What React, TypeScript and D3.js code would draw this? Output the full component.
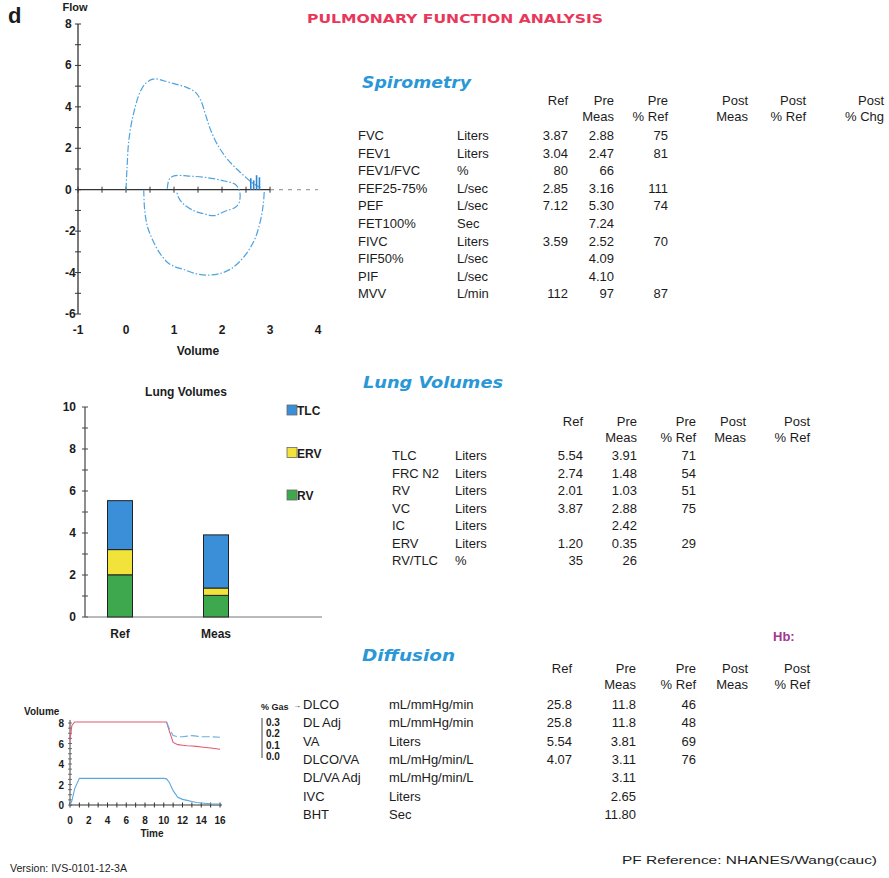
import React, { useRef, useEffect } from 'react';
import * as d3 from 'd3';

const W = 889;
const H = 878;
const SANS = "'Liberation Sans', Arial, sans-serif";
const WIDE = "'DejaVu Sans', Verdana, sans-serif";
const INK = '#1c1c1c';
const HEAD_BLUE = '#2a97d6';
const CURVE_BLUE = '#4ea3de';

// ---- flow-volume loop (volume in L, flow in L/sec) ----
const expVolume = [0, 0.02, 0.06, 0.15, 0.3, 0.44, 0.6, 0.8, 1.0, 1.25, 1.45, 1.56, 1.66, 1.76, 1.9, 2.12, 2.4, 2.62, 2.8];
const expFlow = [0, 1.0, 2.4, 3.6, 4.75, 5.2, 5.35, 5.25, 5.12, 4.95, 4.7, 4.3, 3.6, 2.9, 2.2, 1.45, 0.8, 0.35, 0.1];
const inspVolume = [0.37, 0.39, 0.45, 0.56, 0.7, 0.86, 1.0, 1.2, 1.45, 1.7, 1.95, 2.2, 2.47, 2.68, 2.8, 2.86, 2.88];
const inspFlow = [0, -1.0, -1.8, -2.45, -3.05, -3.5, -3.7, -3.85, -4.05, -4.12, -4.05, -3.8, -3.2, -2.4, -1.5, -0.7, -0.1];
const tidalVolume = [0.86, 0.9, 1.0, 1.3, 1.7, 2.05, 2.28, 2.37, 2.36, 2.28, 2.05, 1.84, 1.6, 1.4, 1.18, 1.08, 1.06];
const tidalFlow = [0.05, 0.5, 0.67, 0.66, 0.58, 0.42, 0.25, -0.1, -0.6, -0.85, -1.05, -1.25, -1.15, -1.0, -0.65, -0.3, -0.05];
const spikeVolume = [2.6, 2.66, 2.72, 2.78];
const spikeFlow = [0.55, 0.45, 0.7, 0.6];
const fvYTicks = [-6, -4, -2, 0, 2, 4, 6, 8];
const fvXTicks = [-1, 0, 1, 2, 3, 4];

// ---- lung volumes bars ----
const lvSlots = ['Ref', 'Meas', 'Post'];
const lvBarCats = ['Ref', 'Meas'];
const lvRV = [2.01, 1.03];
const lvERV = [1.2, 0.35];
const lvTLC = [5.54, 3.91];
const lvLegend = ['TLC', 'ERV', 'RV'];
const lvColors = ['#3b8fd8', '#f2e33a', '#3ea84e'];
const lvYTicks = [0, 2, 4, 6, 8, 10];

// ---- diffusion manoeuvre ----
const diffTime = [0, 0.2, 0.5, 1, 2, 4, 6, 8, 10, 10.3, 10.6, 11, 11.5, 12, 12.5, 13, 13.5, 14, 15, 16];
const diffVolume = [0, 0.4, 1.6, 2.6, 2.6, 2.6, 2.6, 2.6, 2.6, 2.55, 2.2, 1.4, 0.75, 0.55, 0.45, 0.35, 0.25, 0.2, 0.12, 0.1];
const diffGasRed = [0.14, 0.27, 0.3, 0.3, 0.3, 0.3, 0.3, 0.3, 0.3, 0.3, 0.22, 0.12, 0.1, 0.095, 0.09, 0.088, 0.085, 0.08, 0.07, 0.06];
const diffTimeTail = [10.3, 10.6, 11, 11.5, 12, 12.5, 13, 13.5, 14, 15, 16];
const diffGasBlue = [0.3, 0.24, 0.18, 0.17, 0.17, 0.175, 0.18, 0.175, 0.17, 0.17, 0.165];
const diffVolTicks = [0, 2, 4, 6, 8];
const diffTimeTicks = [0, 2, 4, 6, 8, 10, 12, 14, 16];
const diffGasTicks = [0, 0.1, 0.2, 0.3];

// ---- tables ----
const spiroHead1 = ['Ref', 'Pre', 'Pre', 'Post', 'Post', 'Post'];
const spiroHead2 = ['', 'Meas', '% Ref', 'Meas', '% Ref', '% Chg'];
const spiroParams = ['FVC', 'FEV1', 'FEV1/FVC', 'FEF25-75%', 'PEF', 'FET100%', 'FIVC', 'FIF50%', 'PIF', 'MVV'];
const spiroUnits = ['Liters', 'Liters', '%', 'L/sec', 'L/sec', 'Sec', 'Liters', 'L/sec', 'L/sec', 'L/min'];
const spiroRef = ['3.87', '3.04', '80', '2.85', '7.12', '', '3.59', '', '', '112'];
const spiroPreMeas = ['2.88', '2.47', '66', '3.16', '5.30', '7.24', '2.52', '4.09', '4.10', '97'];
const spiroPreRef = ['75', '81', '', '111', '74', '', '70', '', '', '87'];

const lvHead1 = ['Ref', 'Pre', 'Pre', 'Post', 'Post'];
const lvHead2 = ['', 'Meas', '% Ref', 'Meas', '% Ref'];
const lvParams = ['TLC', 'FRC N2', 'RV', 'VC', 'IC', 'ERV', 'RV/TLC'];
const lvUnits = ['Liters', 'Liters', 'Liters', 'Liters', 'Liters', 'Liters', '%'];
const lvRef = ['5.54', '2.74', '2.01', '3.87', '', '1.20', '35'];
const lvPreMeas = ['3.91', '1.48', '1.03', '2.88', '2.42', '0.35', '26'];
const lvPreRef = ['71', '54', '51', '75', '', '29', ''];

const dlHead1 = ['Ref', 'Pre', 'Pre', 'Post', 'Post'];
const dlHead2 = ['', 'Meas', '% Ref', 'Meas', '% Ref'];
const dlParams = ['DLCO', 'DL Adj', 'VA', 'DLCO/VA', 'DL/VA Adj', 'IVC', 'BHT'];
const dlUnits = ['mL/mmHg/min', 'mL/mmHg/min', 'Liters', 'mL/mHg/min/L', 'mL/mHg/min/L', 'Liters', 'Sec'];
const dlRef = ['25.8', '25.8', '5.54', '4.07', '', '', ''];
const dlPreMeas = ['11.8', '11.8', '3.81', '3.11', '3.11', '2.65', '11.80'];
const dlPreRef = ['46', '48', '69', '76', '', '', ''];

type Sel = d3.Selection<SVGGElement, unknown, null, undefined>;

function label(g: Sel, x: number, y: number, txt: string, size: number, anchor = 'start', weight = 'bold') {
    return g.append('text')
        .attr('x', x).attr('y', y)
        .attr('text-anchor', anchor)
        .style('font-family', SANS)
        .style('font-size', `${size}px`)
        .style('font-weight', weight)
        .style('fill', INK)
        .text(txt);
}

function drawTable(g: Sel, o: {
    labelX: number; unitX: number; cols: number[]; head1: string[]; head2: string[];
    headY: number; rowY: number; step: number; params: string[]; units: string[]; values: string[][];
}) {
    o.head1.forEach((t, i) => label(g, o.cols[i], o.headY, t, 13, 'end', 'normal'));
    o.head2.forEach((t, i) => label(g, o.cols[i], o.headY + 16, t, 13, 'end', 'normal'));
    o.params.forEach((p, r) => {
        const y = o.rowY + r * o.step;
        label(g, o.labelX, y, p, 13, 'start', 'normal');
        label(g, o.unitX, y, o.units[r], 13, 'start', 'normal');
        o.values.forEach((col, c) => {
            if (col[r]) label(g, o.cols[c], y, col[r], 13, 'end', 'normal');
        });
    });
}

function drawFlowVolume(root: Sel) {
    const g = root.append('g');
    const x = d3.scaleLinear().domain([-1, 4]).range([78, 318]);
    const y = d3.scaleLinear().domain([-6, 8]).range([314, 24]);

    // vertical axis with + marks every unit
    g.append('line').attr('x1', x(-1)).attr('x2', x(-1)).attr('y1', y(8)).attr('y2', y(-6))
        .attr('stroke', '#333').attr('stroke-width', 1.3);
    d3.range(-6, 9, 1).forEach(v => {
        g.append('line').attr('x1', x(-1) - 3).attr('x2', x(-1) + 3).attr('y1', y(v)).attr('y2', y(v))
            .attr('stroke', '#333').attr('stroke-width', 1);
    });
    fvYTicks.forEach(v => label(g, 65, y(v) + 4, String(v), 12));

    // zero line with ticks every half litre
    g.append('line').attr('x1', x(-1)).attr('x2', x(3)).attr('y1', y(0)).attr('y2', y(0))
        .attr('stroke', '#333').attr('stroke-width', 1.3);
    g.append('line').attr('x1', x(3)).attr('x2', x(4)).attr('y1', y(0)).attr('y2', y(0))
        .attr('stroke', '#888').attr('stroke-width', 1).attr('stroke-dasharray', '4,5');
    d3.range(-1, 3.01, 0.5).forEach(v => {
        g.append('line').attr('x1', x(v)).attr('x2', x(v)).attr('y1', y(0) - 3).attr('y2', y(0) + 3)
            .attr('stroke', '#333').attr('stroke-width', 1);
    });
    fvXTicks.forEach(v => label(g, x(v), 334, String(v), 12, 'middle'));
    label(g, x(1.5), 355, 'Volume', 12, 'middle');
    label(g, 75, 11, 'Flow', 11, 'middle');
    label(g, 8, 23, 'd', 22, 'start');

    const line = d3.line<[number, number]>().x(d => x(d[0])).y(d => y(d[1])).curve(d3.curveCatmullRom);
    const curve = (vs: number[], fs: number[]) => g.append('path')
        .attr('d', line(vs.map((v, i) => [v, fs[i]] as [number, number])))
        .attr('fill', 'none').attr('stroke', CURVE_BLUE).attr('stroke-width', 1.2)
        .attr('stroke-dasharray', '7,2,1.5,2');
    curve(expVolume, expFlow);
    curve(inspVolume, inspFlow);
    curve(tidalVolume, tidalFlow);
    spikeVolume.forEach((v, i) => {
        g.append('line').attr('x1', x(v)).attr('x2', x(v)).attr('y1', y(0)).attr('y2', y(spikeFlow[i]))
            .attr('stroke', '#2f86cf').attr('stroke-width', 1.6);
    });
}

function drawLungBars(root: Sel) {
    const g = root.append('g');
    const y = d3.scaleLinear().domain([0, 10]).range([617, 407]);
    const x = d3.scalePoint<string>().domain(lvSlots).range([120, 312]);
    const bw = 25;

    label(g, 186, 396, 'Lung Volumes', 12, 'middle');
    g.append('line').attr('x1', 85).attr('x2', 85).attr('y1', y(10)).attr('y2', y(0))
        .attr('stroke', '#444').attr('stroke-width', 1.2);
    d3.range(0, 11, 1).forEach(v => {
        g.append('line').attr('x1', 82).attr('x2', 88).attr('y1', y(v)).attr('y2', y(v))
            .attr('stroke', '#444').attr('stroke-width', 1);
    });
    lvYTicks.forEach(v => label(g, 76, y(v) + 4, String(v), 12, 'end'));
    g.append('line').attr('x1', 85).attr('x2', 322).attr('y1', y(0)).attr('y2', y(0))
        .attr('stroke', '#777').attr('stroke-width', 1.2);

    lvBarCats.forEach((c, i) => {
        const cx = x(c)!;
        const segs = [
            [0, lvRV[i], lvColors[2]],
            [lvRV[i], lvRV[i] + lvERV[i], lvColors[1]],
            [lvRV[i] + lvERV[i], lvTLC[i], lvColors[0]],
        ] as [number, number, string][];
        segs.forEach(([a, b, col]) => {
            g.append('rect').attr('x', cx - bw / 2).attr('width', bw)
                .attr('y', y(b)).attr('height', y(a) - y(b))
                .attr('fill', col).attr('stroke', '#222').attr('stroke-width', 1);
        });
        label(g, cx, 638, c, 12, 'middle');
    });

    lvLegend.forEach((t, i) => {
        const ly = 405 + i * 42.5;
        g.append('rect').attr('x', 287).attr('y', ly).attr('width', 10).attr('height', 10)
            .attr('fill', lvColors[i]).attr('stroke', '#666').attr('stroke-width', 0.8);
        label(g, 297, ly + 10, t, 12);
    });
}

function drawDiffusion(root: Sel) {
    const g = root.append('g');
    const x = d3.scaleLinear().domain([0, 16]).range([70, 220]);
    const yv = d3.scaleLinear().domain([0, 8]).range([805, 723]);
    const yg = d3.scaleLinear().domain([0, 0.3]).range([756, 722]);

    label(g, 24, 715, 'Volume', 10);
    g.append('line').attr('x1', 70).attr('x2', 70).attr('y1', yv(8.3)).attr('y2', yv(0))
        .attr('stroke', '#444').attr('stroke-width', 1);
    d3.range(0, 8.01, 0.5).forEach(v => {
        g.append('line').attr('x1', 68).attr('x2', 72).attr('y1', yv(v)).attr('y2', yv(v))
            .attr('stroke', '#555').attr('stroke-width', 0.8);
    });
    diffVolTicks.forEach(v => label(g, 64, yv(v) + 4, String(v), 10, 'end'));

    g.append('line').attr('x1', 70).attr('x2', 222).attr('y1', yv(0)).attr('y2', yv(0))
        .attr('stroke', '#333').attr('stroke-width', 1.2);
    d3.range(0, 16.01, 1).forEach(v => {
        g.append('line').attr('x1', x(v)).attr('x2', x(v)).attr('y1', yv(0) - 2.5).attr('y2', yv(0) + 2.5)
            .attr('stroke', '#333').attr('stroke-width', 1);
    });
    diffTimeTicks.forEach(v => label(g, x(v), 824, String(v), 10, 'middle'));
    label(g, 152, 837, 'Time', 10, 'middle');

    g.append('line').attr('x1', 262).attr('x2', 262).attr('y1', 718).attr('y2', 758)
        .attr('stroke', '#444').attr('stroke-width', 1);
    diffGasTicks.forEach(v => label(g, 266, yg(v) + 4, v.toFixed(1), 10));
    label(g, 261, 710, '% Gas', 9);

    const lv = d3.line<number>().x((_, i) => x(diffTime[i])).y(d => yv(d));
    const lr = d3.line<number>().x((_, i) => x(diffTime[i])).y(d => yg(d));
    const lb = d3.line<number>().x((_, i) => x(diffTimeTail[i])).y(d => yg(d));
    g.append('path').attr('d', lr(diffGasRed)).attr('fill', 'none')
        .attr('stroke', '#e05a72').attr('stroke-width', 1.1);
    g.append('path').attr('d', lb(diffGasBlue)).attr('fill', 'none')
        .attr('stroke', '#6aaee0').attr('stroke-width', 1.1).attr('stroke-dasharray', '8,3');
    g.append('path').attr('d', lv(diffVolume)).attr('fill', 'none')
        .attr('stroke', '#5aa8e0').attr('stroke-width', 1.1);
}

const App: React.FC = () => {
    const ref = useRef<SVGSVGElement>(null);

    useEffect(() => {
        const svg = d3.select(ref.current);
        svg.selectAll('*').remove();
        const root = svg.append('g') as unknown as Sel;

        // page title
        root.append('text').attr('x', 455).attr('y', 23).attr('text-anchor', 'middle')
            .attr('textLength', 296).attr('lengthAdjust', 'spacingAndGlyphs')
            .style('font-family', WIDE).style('font-size', '13px').style('font-weight', 'bold')
            .style('fill', '#e8375a').text('PULMONARY FUNCTION ANALYSIS');

        const heading = (x: number, y: number, t: string, len: number) =>
            root.append('text').attr('x', x).attr('y', y)
                .attr('textLength', len).attr('lengthAdjust', 'spacingAndGlyphs')
                .style('font-family', WIDE).style('font-size', '16px').style('font-weight', 'bold')
                .style('font-style', 'italic').style('fill', HEAD_BLUE).text(t);
        heading(362, 88, 'Spirometry', 109);
        heading(363, 388, 'Lung Volumes', 140);
        heading(362, 661, 'Diffusion', 93);

        drawFlowVolume(root);
        drawLungBars(root);
        drawDiffusion(root);

        drawTable(root, {
            labelX: 358, unitX: 457, cols: [568, 614, 668, 748, 806, 884],
            head1: spiroHead1, head2: spiroHead2, headY: 105, rowY: 140, step: 17.6,
            params: spiroParams, units: spiroUnits, values: [spiroRef, spiroPreMeas, spiroPreRef],
        });
        drawTable(root, {
            labelX: 392, unitX: 455, cols: [583, 637, 696, 746, 810],
            head1: lvHead1, head2: lvHead2, headY: 426, rowY: 460, step: 17.5,
            params: lvParams, units: lvUnits, values: [lvRef, lvPreMeas, lvPreRef],
        });
        drawTable(root, {
            labelX: 303, unitX: 389, cols: [572, 636, 696, 748, 810],
            head1: dlHead1, head2: dlHead2, headY: 673, rowY: 709, step: 18.3,
            params: dlParams, units: dlUnits, values: [dlRef, dlPreMeas, dlPreRef],
        });
        label(root, 293, 708, '→', 8, 'start', 'normal');

        label(root, 773, 641, 'Hb:', 13).style('fill', '#a2378c');

        label(root, 10, 872, 'Version: IVS-0101-12-3A', 11, 'start', 'normal')
            .attr('textLength', 117).attr('lengthAdjust', 'spacingAndGlyphs');
        label(root, 622, 864, 'PF Reference: NHANES/Wang(cauc)', 11, 'start', 'normal')
            .attr('textLength', 255).attr('lengthAdjust', 'spacingAndGlyphs');
    }, []);

    return (
        <svg ref={ref} width={W} height={H}
            style={{ position: 'absolute', left: 0, top: 0, background: '#fff' }} />
    );
};

export default App;
